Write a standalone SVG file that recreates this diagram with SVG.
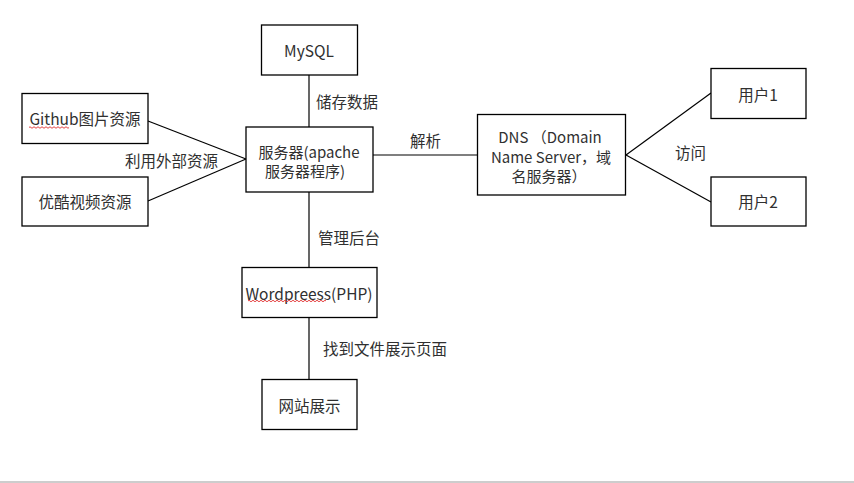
<svg xmlns="http://www.w3.org/2000/svg" width="854" height="483" viewBox="0 0 854 483">
<style>
.box{fill:#fff;stroke:#000;stroke-width:1.3}
.t{font-family:"Noto Sans CJK SC","Noto Sans",sans-serif;font-size:15.5px;fill:#303030;text-anchor:middle;dominant-baseline:central}
.m{font-size:15px}
.lbl{font-family:"Noto Sans CJK SC","Noto Sans",sans-serif;font-size:15.5px;fill:#303030;dominant-baseline:central}
.c{stroke:#000;stroke-width:1.2;fill:none}
.sq{stroke:#e03030;stroke-width:0.9;fill:none}
</style>
<rect width="854" height="483" fill="#fff"/>
<g id="connectors">
<line class="c" x1="309" y1="75" x2="309" y2="127"/>
<line class="c" x1="148" y1="121" x2="246" y2="159"/>
<line class="c" x1="148" y1="201" x2="246" y2="159"/>
<line class="c" x1="373" y1="155" x2="477" y2="155"/>
<line class="c" x1="626" y1="155" x2="711" y2="93"/>
<line class="c" x1="626" y1="155" x2="711" y2="202"/>
<line class="c" x1="309" y1="192" x2="309" y2="267"/>
<line class="c" x1="309" y1="317" x2="309" y2="379"/>
<text class="lbl" x="316" y="101">储存数据</text>
<text class="lbl" x="125" y="160">利用外部资源</text>
<text class="lbl" x="410" y="140">解析</text>
<text class="lbl" x="675" y="152">访问</text>
<text class="lbl" x="318" y="237">管理后台</text>
<text class="lbl" x="323" y="348">找到文件展示页面</text>
</g>
<g id="mysql">
<rect class="box" x="261.5" y="25" width="96" height="50"/>
<text class="t" x="309" y="50">MySQL</text>
</g>
<g id="server">
<rect class="box" x="246" y="127" width="127" height="65"/>
<text class="t m" x="309" y="151">服务器(apache</text>
<text class="t m" x="305" y="170">服务器程序)</text>
</g>
<g id="github">
<rect class="box" x="22" y="93.5" width="126" height="50"/>
<text class="t" x="85" y="118">Github图片资源</text>
<path class="sq" d="M29 127.5 q1 -1.5 2 0 t2 0 t2 0 t2 0 t2 0 t2 0 t2 0 t2 0 t2 0 t2 0 t2 0 t2 0 t2 0 t2 0 t2 0 t2 0 t2 0 t2 0 t2 0 t2 0"/>
</g>
<g id="youku">
<rect class="box" x="22" y="177" width="126" height="49"/>
<text class="t" x="85" y="201">优酷视频资源</text>
</g>
<g id="dns">
<rect class="box" x="477.5" y="114.5" width="148" height="80.5"/>
<text class="t m" x="550" y="136">DNS （Domain</text>
<text class="t m" x="551" y="156">Name Server，域</text>
<text class="t m" x="549" y="175">名服务器）</text>
</g>
<g id="user1">
<rect class="box" x="711" y="68.5" width="95" height="50"/>
<text class="t" x="758" y="94">用户1</text>
</g>
<g id="user2">
<rect class="box" x="711" y="177" width="95" height="49"/>
<text class="t" x="758" y="201">用户2</text>
</g>
<g id="wordpress">
<rect class="box" x="242" y="267.5" width="135" height="50"/>
<text class="t" x="309" y="292.5">Wordpreess(PHP)</text>
<path class="sq" d="M248 301 q1 -1.5 2 0 t2 0 t2 0 t2 0 t2 0 t2 0 t2 0 t2 0 t2 0 t2 0 t2 0 t2 0 t2 0 t2 0 t2 0 t2 0 t2 0 t2 0 t2 0 t2 0 t2 0 t2 0 t2 0 t2 0 t2 0 t2 0 t2 0 t2 0 t2 0 t2 0 t2 0 t2 0 t2 0 t2 0 t2 0 t2 0 t2 0 t2 0 t2 0"/>
</g>
<g id="website">
<rect class="box" x="262" y="379.5" width="95" height="50"/>
<text class="t" x="309.5" y="405">网站展示</text>
</g>
<line x1="0" y1="482" x2="854" y2="482" stroke="#bdbdbd" stroke-width="1.5"/>
</svg>
